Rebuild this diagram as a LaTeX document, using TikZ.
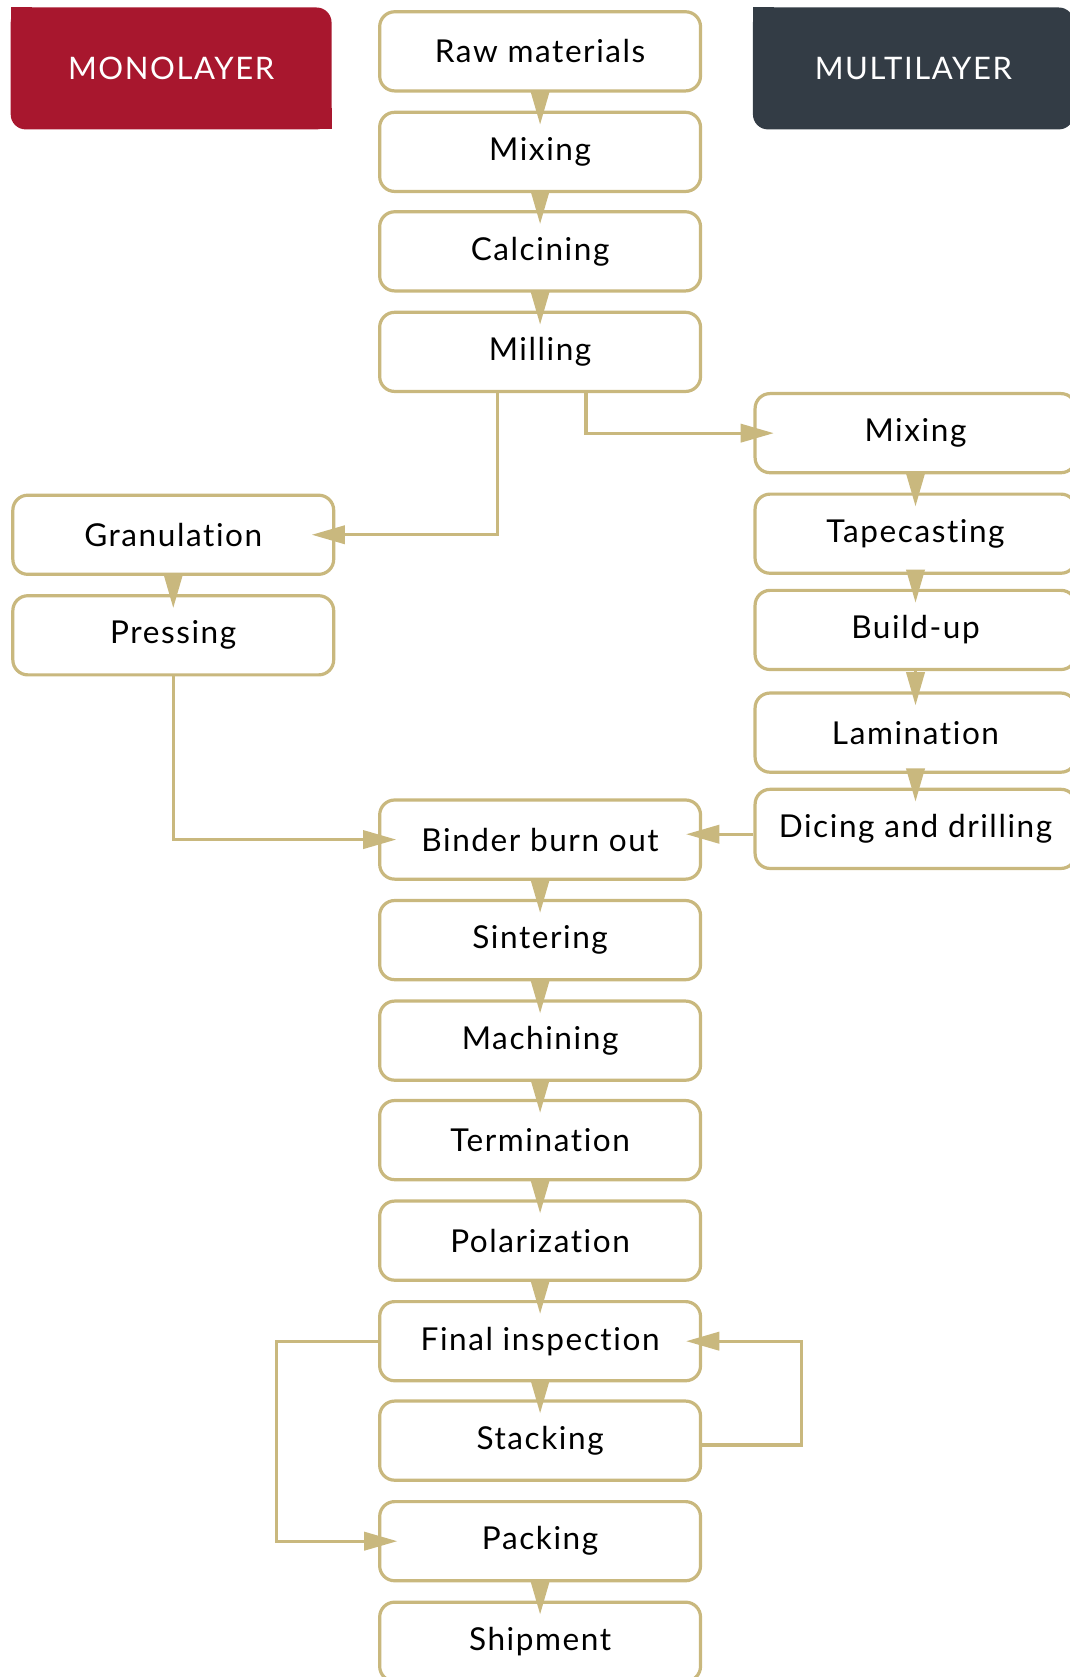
\documentclass[tikz,border=0pt]{standalone}
\usepackage{fontspec}
\setmainfont{Lato}
\newfontfamily\boxfont[LetterSpace=5,Ligatures={NoCommon,NoRare}]{Lato}
\usetikzlibrary{arrows.meta}
\definecolor{gold}{RGB}{201,184,126}
\definecolor{monored}{RGB}{168,23,46}
\definecolor{multigray}{RGB}{51,60,69}
\tikzset{
    stepbox/.style={
            draw=gold, line width=3pt, rounded corners=14pt, fill=white,
            minimum width=300pt, minimum height=74pt, inner sep=0pt,
            font=\boxfont\fontsize{29.5}{34}\selectfont
        },
    header/.style={
            rounded corners=14pt, minimum width=300pt, minimum height=114pt,
            inner sep=0pt, outer sep=0pt, text=white,
            font=\boxfont\fontsize{29}{34}\selectfont
        },
    flow/.style={gold, line width=3pt, -{Triangle[length=31pt,width=17pt]}},
}
\begin{document}
\begin{tikzpicture}[x=1pt,y=-1pt]
        \useasboundingbox (0,0) rectangle (1000,1568);
        %draw header boxes
        \node[header, fill=monored] (mono) at (160,64) {MONOLAYER};
        \fill[monored] (mono.north west) rectangle ++(20,20);
        \fill[monored] (mono.south east) rectangle ++(-20,-20);
        \node[header, fill=multigray] (multi) at (854,64) {MULTILAYER};
        \fill[multigray] (multi.north west) rectangle ++(20,20);
        %draw main column
        \node[stepbox] (raw) at (505,48) {Raw materials};
        \node[stepbox] (mixa) at (505,142) {Mixing};
        \node[stepbox] (calc) at (505,235) {Calcining};
        \node[stepbox] (mill) at (505,329) {Milling};
        \node[stepbox] (binder) at (505,785) {Binder burn out};
        \node[stepbox] (sinter) at (505,879) {Sintering};
        \node[stepbox] (mach) at (505,973) {Machining};
        \node[stepbox] (term) at (505,1066) {Termination};
        \node[stepbox] (polar) at (505,1160) {Polarization};
        \node[stepbox] (final) at (505,1254) {Final inspection};
        \node[stepbox] (stack) at (505,1347) {Stacking};
        \node[stepbox] (pack) at (505,1441) {Packing};
        \node[stepbox] (ship) at (505,1535) {Shipment};
        %draw monolayer column
        \node[stepbox] (gran) at (162,500) {Granulation};
        \node[stepbox] (press) at (162,594) {Pressing};
        %draw multilayer column
        \node[stepbox] (mixb) at (856,405) {Mixing};
        \node[stepbox] (tape) at (856,499) {Tapecasting};
        \node[stepbox] (build) at (856,589) {Build-up};
        \node[stepbox] (lamin) at (856,685) {Lamination};
        \node[stepbox] (dice) at (856,775) {Dicing and drilling};
        %draw arrows between stacked boxes
        \draw[flow] (raw.south) -- ([yshift=-13pt]mixa.north);
        \draw[flow] (mixa.south) -- ([yshift=-13pt]calc.north);
        \draw[flow] (calc.south) -- ([yshift=-13pt]mill.north);
        \draw[flow] (gran.south) -- ([yshift=-13pt]press.north);
        \draw[flow] (mixb.south) -- ([yshift=-13pt]tape.north);
        \draw[flow] (tape.south) -- ([yshift=-13pt]build.north);
        \draw[flow] (build.south) -- ([yshift=-13pt]lamin.north);
        \draw[flow] (lamin.south) -- ([yshift=-13pt]dice.north);
        \draw[flow] (binder.south) -- ([yshift=-13pt]sinter.north);
        \draw[flow] (sinter.south) -- ([yshift=-13pt]mach.north);
        \draw[flow] (mach.south) -- ([yshift=-13pt]term.north);
        \draw[flow] (term.south) -- ([yshift=-13pt]polar.north);
        \draw[flow] (polar.south) -- ([yshift=-13pt]final.north);
        \draw[flow] (final.south) -- ([yshift=-13pt]stack.north);
        \draw[flow] (pack.south) -- ([yshift=-13pt]ship.north);
        %draw branch lines
        \draw[flow] ([xshift=-40pt]mill.south) |- ([xshift=-22pt]gran.east);
        \draw[flow] ([xshift=43pt]mill.south) |- ([xshift=19pt]mixb.west);
        \draw[flow] (press.south) |- ([xshift=17pt]binder.west);
        \draw[flow] ([yshift=-5pt]dice.west) -- ([xshift=-15pt,yshift=5pt]binder.east);
        %draw loop lines
        \draw[flow] (final.west) -- ++(-95,0) |- ([xshift=18pt]pack.west);
        \draw[flow] ([yshift=-4pt]stack.east) -- ++(93,0) |- ([xshift=-15pt]final.east);
    \end{tikzpicture}
\end{document}
